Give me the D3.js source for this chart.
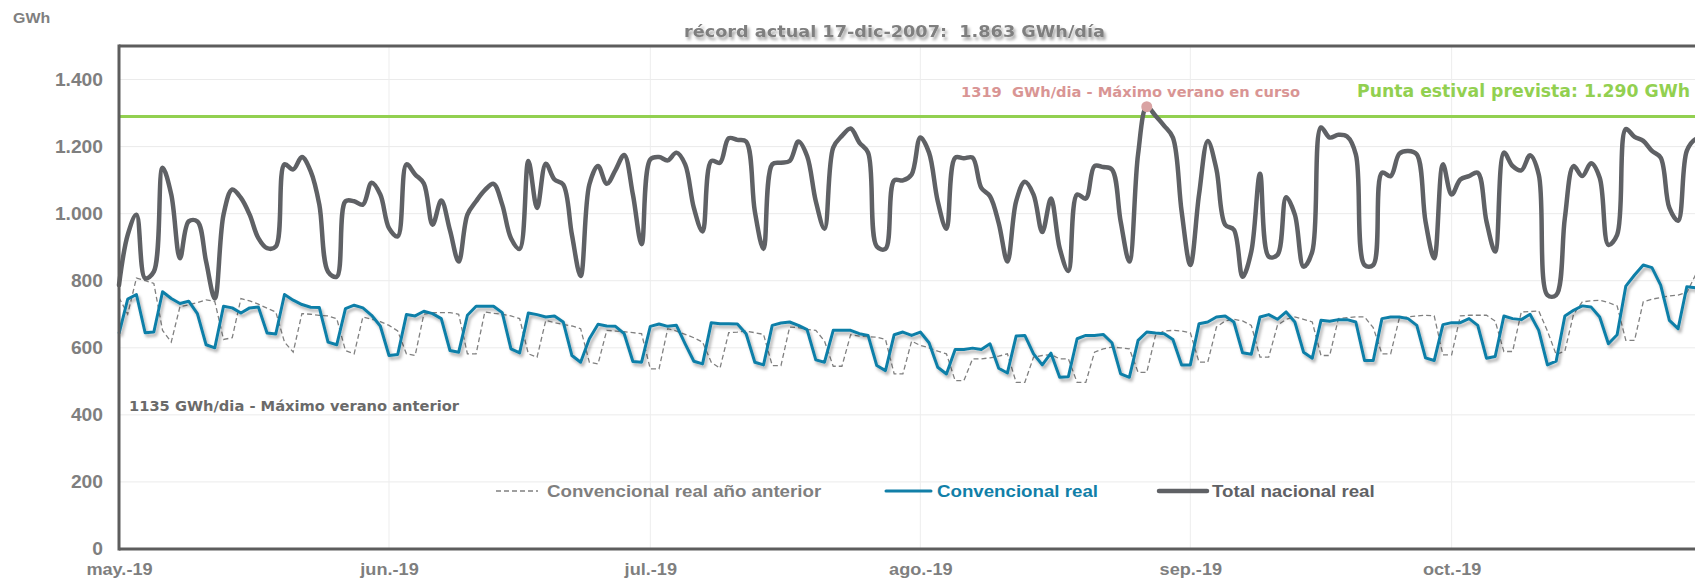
<!DOCTYPE html>
<html lang="es">
<head>
    <meta charset="UTF-8">
    <title>Demanda diaria verano 2019</title>
    <script src="https://d3js.org/d3.v7.min.js"></script>
    <style>
        body { margin: 0; background: #fff; }
        svg text { font-family: "Liberation Sans", Arial, sans-serif; font-weight: bold; white-space: pre; }
        svg text.note { font-family: "DejaVu Sans", Verdana, sans-serif; }
    </style>
</head>
<body>
<svg id="chart" width="1695" height="581"></svg>

<script>
    // daily values in GWh, one per day starting on 1 May 2019
    let startDate = new Date(2019, 4, 1);

    let totalReal = [
        787, 937, 997, 807, 827, 1137, 1057, 867, 977, 977,
        857, 747, 997, 1072, 1047, 997, 927, 897, 902, 1147,
        1132, 1169, 1127, 1027, 827, 812, 1037, 1037, 1027, 1092,
        1057, 957, 932, 1147, 1117, 1090, 967, 1039, 950, 857,
        997, 1037, 1070, 1089, 1027, 927, 895, 1157, 1017, 1149,
        1102, 1087, 937, 814, 1087, 1142, 1089, 1130, 1175, 1057,
        909, 1162, 1169, 1159, 1182, 1147, 1017, 947, 1157, 1152,
        1225, 1220, 1215, 1007, 895, 1147, 1152, 1157, 1215, 1172,
        1037, 955, 1197, 1232, 1254, 1212, 1182, 902, 895, 1099,
        1099, 1117, 1227, 1182, 1037, 955, 1167, 1165, 1167, 1077,
        1052, 972, 857, 1037, 1095, 1057, 945, 1045, 897, 829,
        1057, 1045, 1142, 1139, 1132, 977, 857, 1177, 1319, 1292,
        1262, 1227, 1007, 847, 1057, 1217, 1132, 967, 952, 812,
        887, 1119, 872, 877, 1049, 997, 842, 887, 1257, 1227,
        1235, 1230, 1177, 847, 847, 1122, 1112, 1179, 1187, 1177,
        977, 867, 1147, 1057, 1102, 1112, 1122, 977, 887, 1182,
        1142, 1129, 1174, 1117, 757, 757, 987, 1142, 1112, 1150,
        1107, 907, 937, 1252, 1229, 1217, 1187, 1167, 1017, 979,
        1187, 1222, 1225
    ];

    let convReal = [
        642, 745, 759, 645, 647, 767, 747, 732, 739, 702,
        609, 600, 724, 719, 704, 719, 722, 644, 641, 759,
        742, 729, 721, 720, 617, 609, 717, 727, 719, 697,
        665, 577, 580, 699, 695, 709, 702, 687, 592, 587,
        697, 724, 724, 724, 705, 597, 585, 704, 699, 692,
        695, 677, 577, 557, 627, 670, 665, 664, 642, 559,
        557, 664, 671, 664, 667, 612, 560, 552, 675, 672,
        672, 671, 642, 557, 549, 667, 674, 677, 667, 654,
        564, 557, 652, 652, 652, 642, 637, 547, 532, 639,
        647, 637, 647, 615, 542, 522, 595, 595, 599, 595,
        612, 539, 525, 635, 637, 582, 549, 584, 512, 514,
        627, 637, 637, 640, 615, 522, 512, 622, 647, 644,
        642, 625, 549, 549, 672, 677, 692, 695, 677, 585,
        581, 692, 699, 685, 707, 677, 587, 569, 682, 679,
        684, 684, 677, 562, 562, 687, 692, 692, 687, 667,
        570, 562, 669, 675, 675, 687, 667, 569, 574, 695,
        687, 684, 700, 652, 549, 560, 695, 712, 725, 722,
        692, 612, 639, 784, 817, 847, 839, 787, 682, 657,
        782, 779, 790
    ];

    let convPrev = [
        750, 700, 808, 800, 792, 652, 617, 723, 728, 735,
        743, 738, 625, 630, 747, 740, 730, 718, 707, 617,
        587, 702, 700, 697, 695, 687, 592, 582, 692, 685,
        678, 667, 650, 582, 577, 700, 705, 705, 705, 700,
        582, 582, 707, 703, 700, 695, 687, 582, 572, 682,
        675, 670, 665, 657, 557, 552, 652, 650, 648, 645,
        642, 537, 537, 657, 650, 640, 630, 617, 557, 539,
        645, 647, 650, 645, 640, 547, 547, 662, 660, 655,
        652, 620, 545, 545, 639, 635, 633, 632, 625, 522,
        522, 620, 607, 600, 590, 582, 502, 502, 567, 567,
        570, 575, 582, 497, 497, 572, 577, 580, 567, 567,
        497, 497, 587, 597, 602, 600, 597, 527, 527, 637,
        650, 652, 650, 645, 557, 557, 662, 680, 685, 680,
        667, 572, 572, 667, 685, 692, 685, 677, 577, 577,
        687, 690, 692, 692, 660, 582, 582, 689, 692, 695,
        697, 695, 579, 579, 695, 697, 697, 697, 680, 589,
        589, 707, 708, 710, 650, 580, 590, 700, 737, 740,
        742, 735, 725, 622, 622, 737, 745, 750, 755, 757,
        765, 817, 830
    ];

    let monthTicks = [
        new Date(2019, 4, 1), new Date(2019, 5, 1), new Date(2019, 6, 1),
        new Date(2019, 7, 1), new Date(2019, 8, 1), new Date(2019, 9, 1)
    ];
    let monthLabels = ["may.-19", "jun.-19", "jul.-19", "ago.-19", "sep.-19", "oct.-19"];
    let yTicks = [0, 200, 400, 600, 800, 1000, 1200, 1400];

    let puntaPrevista = 1290;
    let maxDay = 118;          // 27-ago
    let maxValue = 1319;

    let titleText = "récord actual 17-dic-2007:  1.863 GWh/día";
    let maxText = "1319  GWh/dia - Máximo verano en curso";
    let prevText = "1135 GWh/dia - Máximo verano anterior";
    let puntaText = "Punta estival prevista: 1.290 GWh";
    let legendNames = ["Convencional real año anterior", "Convencional real", "Total nacional real"];

    // ---------------------------------------------------------------
    let W = 1695, plotLeft = 119, plotTop = 46, plotBottom = 549;
    let svg = d3.select("#chart");

    let x = d3.scaleTime()
        .domain([new Date(2019, 4, 1), new Date(2019, 10, 1)])
        .range([plotLeft, plotLeft + 184 * 8.71]);
    let y = d3.scaleLinear().domain([0, 1500]).range([plotBottom, plotTop]);

    let day = i => d3.timeDay.offset(startDate, i);
    let fmt = d3.formatLocale({decimal: ",", thousands: ".", grouping: [3], currency: ["", " €"]}).format(",");

    // the original picture is stretched sideways, so the text is too
    function stretch(sel, k) {
        sel.each(function () {
            let t = d3.select(this);
            let ax = +t.attr("x") || 0;
            t.attr("transform", `translate(${ax},0) scale(${k},1) translate(${-ax},0)`);
        });
    }

    // shadows
    let defs = svg.append("defs");
    defs.append("filter").attr("id", "lineShadow")
        .attr("x", "-5%").attr("y", "-20%").attr("width", "110%").attr("height", "140%")
        .append("feDropShadow")
        .attr("dx", 2).attr("dy", 3).attr("stdDeviation", 1.8)
        .attr("flood-color", "#000").attr("flood-opacity", 0.3);
    defs.append("filter").attr("id", "textShadow")
        .attr("x", "-5%").attr("y", "-40%").attr("width", "110%").attr("height", "180%")
        .append("feDropShadow")
        .attr("dx", 2).attr("dy", 3).attr("stdDeviation", 1.5)
        .attr("flood-color", "#000").attr("flood-opacity", 0.35);

    // grid
    svg.append("g").selectAll("line")
        .data(yTicks.slice(1))
        .join("line")
        .attr("x1", plotLeft).attr("x2", W)
        .attr("y1", d => y(d)).attr("y2", d => y(d))
        .attr("stroke", "#ebebeb").attr("stroke-width", 1);
    svg.append("g").selectAll("line")
        .data(monthTicks.slice(1))
        .join("line")
        .attr("x1", d => x(d)).attr("x2", d => x(d))
        .attr("y1", plotTop).attr("y2", plotBottom)
        .attr("stroke", "#ededed").attr("stroke-width", 1);

    // expected summer peak
    svg.append("line")
        .attr("x1", plotLeft).attr("x2", W)
        .attr("y1", y(puntaPrevista)).attr("y2", y(puntaPrevista))
        .attr("stroke", "#92d050").attr("stroke-width", 3);

    // series
    let linePrev = d3.line().x((d, i) => x(day(i))).y(d => y(d));
    let lineTotal = d3.line().x((d, i) => x(day(i))).y(d => y(d)).curve(d3.curveCatmullRom.alpha(0.5));

    svg.append("path").datum(convPrev)
        .attr("d", linePrev)
        .attr("fill", "none").attr("stroke", "#808080")
        .attr("stroke-width", 1.3).attr("stroke-dasharray", "5,3");

    svg.append("path").datum(convReal)
        .attr("d", linePrev)
        .attr("fill", "none").attr("stroke", "#117fa8")
        .attr("stroke-width", 3).attr("stroke-linejoin", "round")
        .attr("filter", "url(#lineShadow)");

    svg.append("path").datum(totalReal)
        .attr("d", lineTotal)
        .attr("fill", "none").attr("stroke", "#5f6165")
        .attr("stroke-width", 4.5).attr("stroke-linejoin", "round").attr("stroke-linecap", "round");

    // max point of this summer
    svg.append("circle")
        .attr("cx", x(day(maxDay))).attr("cy", y(maxValue)).attr("r", 5.5)
        .attr("fill", "#d9a3a3");

    // frame
    let frame = svg.append("g").attr("stroke", "#5d5d5d").attr("stroke-width", 3);
    frame.append("line").attr("x1", plotLeft).attr("x2", W).attr("y1", plotTop).attr("y2", plotTop);
    frame.append("line").attr("x1", plotLeft).attr("x2", W).attr("y1", plotBottom).attr("y2", plotBottom);
    frame.append("line").attr("x1", plotLeft).attr("x2", plotLeft).attr("y1", plotTop - 1.5).attr("y2", plotBottom + 1.5);

    // axes
    let yAxis = svg.append("g")
        .attr("transform", `translate(${plotLeft},0)`)
        .call(d3.axisLeft(y).tickValues(yTicks).tickFormat(fmt).tickSize(0).tickPadding(16));
    yAxis.select(".domain").remove();
    yAxis.selectAll("text")
        .attr("fill", "#7f7f7f").style("font-size", "17.5px");
    stretch(yAxis.selectAll("text"), 1.1);

    let xAxis = svg.append("g")
        .attr("transform", `translate(0,${plotBottom})`)
        .call(d3.axisBottom(x).tickValues(monthTicks).tickFormat((d, i) => monthLabels[i]).tickSize(0).tickPadding(14));
    xAxis.select(".domain").remove();
    xAxis.selectAll("text")
        .attr("fill", "#7f7f7f").style("font-size", "16.5px");
    stretch(xAxis.selectAll("text"), 1.1);

    // unit
    let unit = svg.append("text")
        .attr("x", 13).attr("y", 23)
        .attr("fill", "#7f7f7f").style("font-size", "14.5px")
        .text("GWh");
    stretch(unit, 1.1);

    // title
    svg.append("text")
        .attr("class", "note")
        .attr("x", 684).attr("y", 37)
        .attr("textLength", 421).attr("lengthAdjust", "spacingAndGlyphs")
        .attr("fill", "#7f7f7f").style("font-size", "16px")
        .attr("filter", "url(#textShadow)")
        .text(titleText);

    // annotations
    svg.append("text")
        .attr("class", "note")
        .attr("x", 961).attr("y", 97)
        .attr("textLength", 339).attr("lengthAdjust", "spacingAndGlyphs")
        .attr("fill", "#d99594").style("font-size", "14px")
        .text(maxText);

    svg.append("text")
        .attr("class", "note")
        .attr("x", 1357).attr("y", 97)
        .attr("textLength", 333).attr("lengthAdjust", "spacingAndGlyphs")
        .attr("fill", "#92d050").style("font-size", "17px")
        .text(puntaText);

    svg.append("text")
        .attr("class", "note")
        .attr("x", 129).attr("y", 411)
        .attr("textLength", 330).attr("lengthAdjust", "spacingAndGlyphs")
        .attr("fill", "#6a6a6a").style("font-size", "14px")
        .text(prevText);

    // legend
    let legendY = 491;
    let legendItems = [
        {name: legendNames[0], x1: 496, x2: 538, tx: 547, color: "#808080", text: "#7f7f7f", w: 1.3, dash: "5,3"},
        {name: legendNames[1], x1: 886, x2: 931, tx: 937, color: "#117fa8", text: "#117fa8", w: 3, dash: null},
        {name: legendNames[2], x1: 1159, x2: 1207, tx: 1212, color: "#5f6165", text: "#5f6165", w: 4.5, dash: null}
    ];
    let legend = svg.append("g");
    legend.selectAll("line")
        .data(legendItems)
        .join("line")
        .attr("x1", d => d.x1).attr("x2", d => d.x2)
        .attr("y1", legendY).attr("y2", legendY)
        .attr("stroke", d => d.color).attr("stroke-width", d => d.w)
        .attr("stroke-dasharray", d => d.dash)
        .attr("stroke-linecap", d => d.dash ? "butt" : "round");
    let legendText = legend.selectAll("text")
        .data(legendItems)
        .join("text")
        .attr("x", d => d.tx).attr("y", legendY + 6)
        .attr("fill", d => d.text).style("font-size", "17px")
        .text(d => d.name);
    stretch(legendText, 1.1);
</script>
</body>
</html>
